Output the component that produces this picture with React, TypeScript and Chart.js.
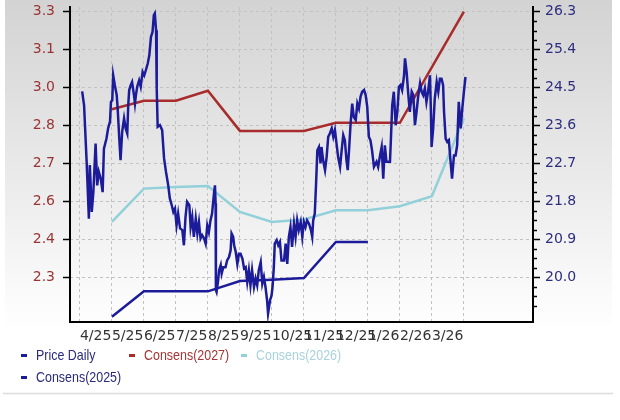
import React, { useEffect, useRef } from 'react';
import { Chart, registerables } from 'chart.js';

Chart.register(...registerables);

// ---- data ----
const monthTicks = [0, 1, 2, 3, 4, 5, 6, 7, 8, 9, 10, 11, 12];
const monthLabels = ['4/25', '5/25', '6/25', '7/25', '8/25', '9/25', '10/25', '11/25', '12/25', '1/26', '2/26', '3/26'];
const monthRange = [-0.31, 14.16];

const epsTickValues = [2.28, 2.42, 2.56, 2.70, 2.84, 2.98, 3.12, 3.26];
const epsTickLabels = ['2.3', '2.4', '2.6', '2.7', '2.8', '3.0', '3.1', '3.3'];
const epsRange = [2.115, 3.277];

const priceTickValues = [20.0, 20.9, 21.8, 22.7, 23.6, 24.5, 25.4, 26.3];
const priceTickLabels = ['20.0', '20.9', '21.8', '22.7', '23.6', '24.5', '25.4', '26.3'];
const priceRange = [18.94, 26.41];

const seriesNames = ['Price Daily', 'Consens(2027)', 'Consens(2026)', 'Consens(2025)'];

// [month offset from 4/25, price]
const priceDaily: [number, number][] = [
  [0.07, 24.41], [0.13, 24.08], [0.21, 22.74], [0.28, 21.39], [0.31, 22.66], [0.37, 21.55], [0.42, 22.02], [0.49, 23.17],
  [0.54, 22.18], [0.59, 22.50], [0.65, 22.34], [0.71, 22.02], [0.75, 23.05], [0.83, 23.29], [0.88, 23.53], [0.94, 23.69],
  [0.97, 24.16], [1.01, 24.20], [1.04, 24.79], [1.09, 24.56], [1.15, 24.32], [1.18, 24.00], [1.23, 23.29], [1.27, 22.78],
  [1.32, 23.45], [1.38, 23.77], [1.43, 23.53], [1.48, 23.41], [1.51, 24.08], [1.54, 24.44], [1.59, 24.56], [1.63, 24.63],
  [1.69, 24.32], [1.72, 24.12], [1.75, 24.32], [1.79, 24.52], [1.85, 24.67], [1.90, 24.52], [1.96, 24.87], [2.01, 24.79],
  [2.06, 24.91], [2.12, 25.07], [2.17, 25.27], [2.22, 25.70], [2.27, 25.82], [2.31, 26.22], [2.34, 26.26], [2.38, 25.86],
  [2.40, 24.48], [2.43, 23.57], [2.50, 23.61], [2.57, 23.49], [2.63, 22.82], [2.69, 22.50], [2.76, 22.18], [2.81, 21.87],
  [2.87, 21.71], [2.92, 21.55], [2.97, 21.63], [3.02, 21.23], [3.07, 21.51], [3.13, 21.16], [3.20, 21.12], [3.25, 20.76],
  [3.30, 21.43], [3.35, 21.79], [3.42, 21.71], [3.46, 21.19], [3.51, 21.43], [3.56, 20.96], [3.62, 21.39], [3.67, 21.04],
  [3.72, 21.31], [3.77, 20.92], [3.82, 21.00], [3.88, 20.92], [3.93, 20.80], [3.98, 21.23], [4.03, 21.07], [4.08, 21.35],
  [4.13, 21.51], [4.19, 21.99], [4.22, 22.18], [4.24, 21.75], [4.25, 19.69], [4.27, 19.65], [4.32, 19.93], [4.35, 20.17],
  [4.40, 20.29], [4.43, 20.09], [4.48, 20.24], [4.55, 20.24], [4.60, 20.40], [4.66, 20.48], [4.71, 20.64], [4.74, 21.04],
  [4.79, 20.96], [4.82, 20.76], [4.87, 20.60], [4.92, 20.32], [4.97, 20.56], [5.02, 20.56], [5.08, 20.44], [5.13, 20.21],
  [5.18, 20.24], [5.23, 19.89], [5.28, 20.17], [5.33, 19.81], [5.38, 20.17], [5.44, 19.77], [5.49, 19.97], [5.54, 19.81],
  [5.59, 20.17], [5.65, 20.36], [5.70, 19.85], [5.75, 20.01], [5.80, 19.77], [5.85, 19.45], [5.88, 19.14], [5.94, 19.45],
  [5.99, 19.57], [6.02, 19.77], [6.06, 20.24], [6.09, 20.80], [6.15, 20.88], [6.20, 20.76], [6.25, 20.84], [6.30, 20.40],
  [6.38, 20.40], [6.43, 20.80], [6.48, 20.32], [6.53, 20.96], [6.58, 21.19], [6.63, 20.72], [6.69, 21.27], [6.74, 20.96],
  [6.79, 21.35], [6.84, 21.12], [6.90, 21.31], [6.95, 20.96], [7.00, 21.31], [7.05, 21.19], [7.10, 21.35], [7.16, 21.27],
  [7.22, 21.12], [7.26, 20.96], [7.29, 21.35], [7.34, 21.51], [7.38, 22.22], [7.42, 23.01], [7.47, 23.09], [7.52, 22.70],
  [7.55, 23.09], [7.60, 22.78], [7.66, 22.54], [7.71, 22.85], [7.76, 23.33], [7.81, 23.41], [7.87, 23.53], [7.92, 23.33],
  [7.97, 23.49], [8.02, 23.17], [8.07, 22.85], [8.13, 22.62], [8.18, 23.01], [8.23, 23.37], [8.28, 23.25], [8.33, 22.78],
  [8.37, 22.54], [8.41, 23.01], [8.46, 23.65], [8.51, 24.12], [8.56, 23.80], [8.62, 23.73], [8.67, 24.12], [8.72, 24.00],
  [8.77, 24.28], [8.82, 24.40], [8.88, 24.44], [8.93, 24.32], [8.98, 24.04], [9.03, 23.33], [9.08, 23.25], [9.13, 23.01],
  [9.19, 22.62], [9.27, 22.74], [9.32, 22.62], [9.38, 22.89], [9.43, 23.09], [9.48, 22.34], [9.53, 23.13], [9.58, 22.74],
  [9.63, 22.74], [9.69, 22.74], [9.72, 23.29], [9.76, 24.08], [9.81, 24.40], [9.87, 23.61], [9.92, 23.92], [9.97, 24.52],
  [10.02, 24.56], [10.07, 24.44], [10.13, 24.79], [10.16, 25.19], [10.21, 24.87], [10.26, 24.36], [10.31, 23.92], [10.37, 24.40],
  [10.42, 24.32], [10.47, 23.61], [10.52, 23.92], [10.57, 24.28], [10.63, 24.60], [10.68, 24.40], [10.73, 24.32], [10.78, 24.48],
  [10.83, 24.16], [10.88, 24.40], [10.94, 24.79], [10.97, 23.92], [10.99, 23.09], [11.04, 23.53], [11.09, 24.24], [11.15, 24.63],
  [11.20, 24.40], [11.25, 24.71], [11.30, 24.71], [11.35, 24.56], [11.38, 23.92], [11.43, 23.29], [11.48, 23.21], [11.53, 23.25],
  [11.58, 22.78], [11.63, 22.34], [11.69, 22.89], [11.74, 22.89], [11.79, 23.13], [11.84, 24.16], [11.90, 23.53], [11.95, 24.00],
  [12.00, 24.40], [12.05, 24.75],
];

// [month offset, EPS estimate]
const consens2027: [number, number][] = [
  [1, 2.900], [2, 2.931], [3, 2.931], [4, 2.968], [5, 2.820], [6, 2.820], [7, 2.820], [8, 2.850], [9, 2.850], [10, 2.850], [11, 3.055], [12, 3.260],
];
const consens2026: [number, number][] = [
  [1, 2.484], [2, 2.607], [3, 2.613], [4, 2.617], [5, 2.521], [6, 2.484], [7, 2.493], [8, 2.527], [9, 2.527], [10, 2.542], [11, 2.579], [12, 2.866],
];
const consens2025: [number, number][] = [
  [1, 2.134], [2, 2.228], [3, 2.228], [4, 2.228], [5, 2.266], [6, 2.271], [7, 2.277], [8, 2.410], [9, 2.410],
];

// ---- styles ----
const NAVY = '#1c1c9a';
const RED = '#a82c2c';
const CYAN = '#92d0da';
const seriesColors = [NAVY, RED, CYAN, NAVY];
const legendTextColors = ['#2a2a7c', '#a83434', '#a9d2dc', '#2a2a7c'];
const legendPos = [
  [21, 355],
  [129, 355],
  [241, 355],
  [21, 377],
];
const TICK_FONT = { family: "'DejaVu Sans', Verdana, sans-serif", size: 14 };

const toXY = (arr: [number, number][]) => arr.map(([x, y]) => ({ x, y }));

const backgroundPlugin = {
  id: 'bgGradient',
  beforeDraw(chart: any) {
    const { ctx, width, height } = chart;
    ctx.save();
    ctx.fillStyle = '#ffffff';
    ctx.fillRect(0, 0, width, height);
    const g = ctx.createLinearGradient(0, 0, 0, 330);
    g.addColorStop(0, '#d3d3d3');
    g.addColorStop(0.55, '#ebebeb');
    g.addColorStop(1, '#ffffff');
    ctx.fillStyle = g;
    ctx.fillRect(5, 0, 607, 393);
    ctx.strokeStyle = '#dcdcdc';
    ctx.lineWidth = 1.5;
    ctx.beginPath();
    ctx.moveTo(3, 393.5);
    ctx.lineTo(613, 393.5);
    ctx.stroke();
    ctx.restore();
  },
};

const minorTickPlugin = {
  id: 'minorTicks',
  afterDraw(chart: any) {
    const s = chart.scales.y1;
    if (!s) return;
    const { ctx } = chart;
    const step = (priceTickValues[1] - priceTickValues[0]) / 4;
    const x0 = chart.chartArea.right;
    ctx.save();
    ctx.strokeStyle = '#000';
    ctx.lineWidth = 1.5;
    ctx.beginPath();
    for (let k = -8; k < priceTickValues.length * 4 + 4; k++) {
      if (k % 4 === 0) continue;
      const v = priceTickValues[0] + k * step;
      if (v <= s.min || v >= s.max) continue;
      const y = Math.round(s.getPixelForValue(v)) + 0.5;
      ctx.moveTo(x0, y);
      ctx.lineTo(x0 + 4, y);
    }
    ctx.stroke();
    ctx.restore();
  },
};

export default function App() {
  const ref = useRef<HTMLCanvasElement | null>(null);

  useEffect(() => {
    if (!ref.current) return;
    const seriesData = [priceDaily, consens2027, consens2026, consens2025];
    const chart = new Chart(ref.current, {
      type: 'line',
      data: {
        datasets: seriesData.map((d, i) => ({
          label: seriesNames[i],
          data: toXY(d),
          borderColor: seriesColors[i],
          backgroundColor: seriesColors[i],
          borderWidth: 2.5,
          pointRadius: 0,
          tension: 0,
          fill: false,
          yAxisID: i === 0 ? 'y1' : 'y',
          order: i,
        })),
      },
      options: {
        responsive: false,
        animation: false,
        devicePixelRatio: 1,
        layout: { padding: { top: 7, left: 0, right: 0, bottom: 0 } },
        plugins: {
          legend: { display: false },
          tooltip: { enabled: false },
        },
        scales: {
          x: {
            type: 'linear',
            min: monthRange[0],
            max: monthRange[1],
            afterBuildTicks: (s: any) => {
              s.ticks = monthTicks.map((v) => ({ value: v }));
            },
            afterFit: (s: any) => {
              s.height = 98;
              s.paddingLeft = 0;
              s.paddingRight = 0;
            },
            ticks: {
              autoSkip: false,
              maxRotation: 0,
              align: 'start',
              padding: 6,
              color: '#333333',
              font: TICK_FONT,
              callback: (_v: any, i: number) => monthLabels[i] ?? '',
            },
            grid: { color: '#c2c2c2', lineWidth: 1, drawTicks: false },
            border: { color: '#000', width: 2, dash: [3, 3] },
          },
          y: {
            type: 'linear',
            position: 'left',
            min: epsRange[0],
            max: epsRange[1],
            afterBuildTicks: (s: any) => {
              s.ticks = epsTickValues.map((v) => ({ value: v }));
            },
            afterFit: (s: any) => {
              s.width = 70;
              s.paddingTop = 0;
              s.paddingBottom = 0;
            },
            ticks: {
              padding: 8,
              color: '#9a3434',
              font: TICK_FONT,
              callback: (_v: any, i: number) => epsTickLabels[i] ?? '',
            },
            grid: { drawOnChartArea: false, drawTicks: true, tickLength: 7, tickColor: '#000', tickWidth: 1.5 },
            border: { color: '#000', width: 2 },
          },
          y1: {
            type: 'linear',
            position: 'right',
            min: priceRange[0],
            max: priceRange[1],
            afterBuildTicks: (s: any) => {
              s.ticks = priceTickValues.map((v) => ({ value: v }));
            },
            afterFit: (s: any) => {
              s.width = 87;
              s.paddingTop = 0;
              s.paddingBottom = 0;
            },
            ticks: {
              padding: 5,
              color: '#2e2e80',
              font: TICK_FONT,
              callback: (_v: any, i: number) => priceTickLabels[i] ?? '',
            },
            grid: {
              drawOnChartArea: true,
              color: '#c2c2c2',
              lineWidth: 1,
              drawTicks: true,
              tickLength: 7,
              tickColor: '#000',
              tickWidth: 1.5,
            },
            border: { color: '#000', width: 2, dash: [3, 3] },
          },
        },
      },
      plugins: [backgroundPlugin, minorTickPlugin],
    } as any);
    return () => chart.destroy();
  }, []);

  return (
    <div style={{ position: 'fixed', left: 0, top: 0, width: 620, height: 420, background: '#fff', overflow: 'hidden' }}>
      <canvas ref={ref} width={620} height={420} style={{ position: 'absolute', left: 0, top: 0, width: 620, height: 420 }} />
      {seriesNames.map((name, i) => (
        <div
          key={name}
          style={{
            position: 'absolute',
            left: legendPos[i][0],
            top: legendPos[i][1] - 8,
            height: 16,
            display: 'flex',
            alignItems: 'center',
            whiteSpace: 'nowrap',
            fontFamily: "'Liberation Sans', Arial, sans-serif",
            fontSize: 15,
            lineHeight: '16px',
            color: legendTextColors[i],
          }}
        >
          <span style={{ display: 'inline-block', width: 6, height: 3, background: seriesColors[i], marginRight: 9 }} />
          <span style={{ display: 'inline-block', transform: 'scaleX(0.83)', transformOrigin: 'left center' }}>{name}</span>
        </div>
      ))}
    </div>
  );
}
